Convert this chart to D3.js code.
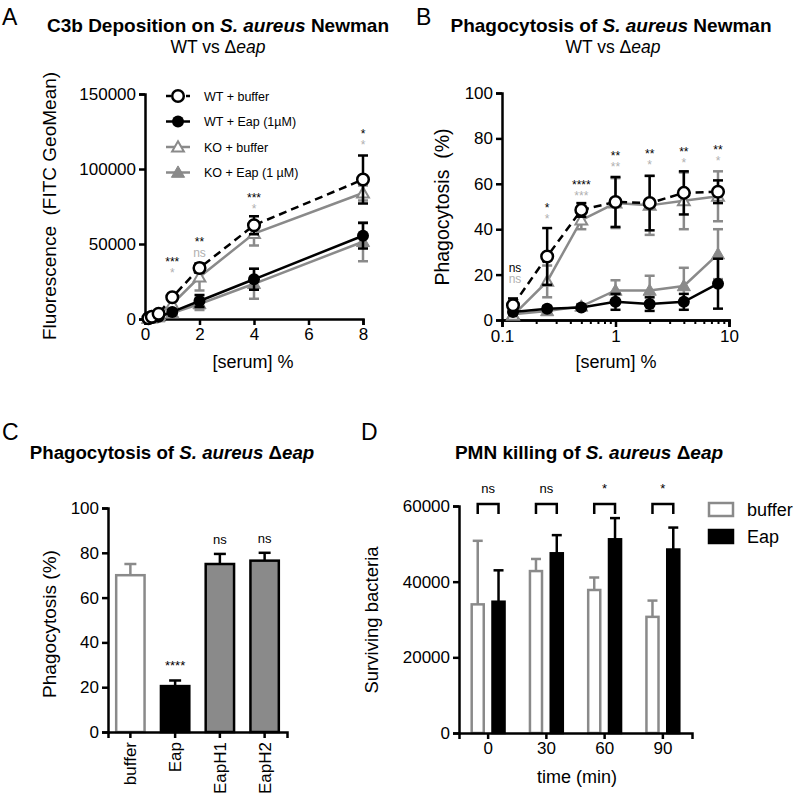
<!DOCTYPE html>
<html><head><meta charset="utf-8">
<script src="https://cdn.jsdelivr.net/npm/d3@7"></script>
<style>body{margin:0;background:#fff}svg{display:block;font-family:"Liberation Sans",Arial,sans-serif}text{white-space:pre}</style>
</head><body><svg id="c" width="800" height="797"></svg>
<script>
// ---------- DATA ----------
const serumA = [0.125, 0.25, 0.5, 1, 2, 4, 8];
const aWTbuf = [500, 1500, 3500, 14500, 34000, 62500, 93000];
const aWTbufErr = [300, 500, 1000, 2000, 3000, 6000, 16000];
const aWTeap = [300, 600, 1500, 4700, 12000, 26500, 55500];
const aWTeapErr = [200, 300, 600, 1000, 4000, 7000, 8500];
const aKObuf = [400, 1200, 3000, 10000, 28000, 57000, 84000];
const aKObufErr = [300, 400, 900, 2000, 9000, 8000, 5000];
const aKOeap = [300, 500, 1300, 4000, 10000, 23500, 51500];
const aKOeapErr = [200, 300, 500, 1000, 4000, 10000, 13000];
const aTicksY = [0, 50000, 100000, 150000];
const aTicksX = [0, 2, 4, 6, 8];
const aSigX = [1, 2, 4, 8];
const aSigBlack = ["***", "**", "***", "*"];
const aSigGray = ["*", "ns", "*", "*"];
const aSigY = [35300, 48700, 78000, 121000];
const legendA = ["WT + buffer", "WT + Eap (1\u00b5M)", "KO + buffer", "KO + Eap (1 \u00b5M)"];

const serumB = [0.125, 0.25, 0.5, 1, 2, 4, 8];
const bWTbuf = [6.5, 28, 48.5, 52, 51.5, 56, 56.5];
const bWTbufErr = [3, 12.5, 3, 11, 12, 9.5, 5];
const bKObuf = [2, 17, 44, 51.5, 50.5, 52.5, 54.5];
const bKObufErr = [1, 7, 4, 11, 13, 12.5, 11];
const bWTeap = [3.5, 5, 5.5, 8, 7, 8, 16];
const bWTeapErr = [1, 1, 0.8, 3.5, 3, 3.5, 11];
const bKOeap = [2.5, 4, 6, 13, 13, 15, 29];
const bKOeapErr = [1, 1, 1, 4.5, 6.5, 8, 11];
const bTicksY = [0, 20, 40, 60, 80, 100];
const bTicksX = [0.1, 1, 10];
const bSigX = [0.125, 0.25, 0.5, 1, 2, 4, 8];
const bSigBlack = ["ns", "*", "****", "**", "**", "**", "**"];
const bSigGray = ["ns", "*", "***", "**", "*", "*", "*"];
const bSigY = [21, 47.6, 57.7, 70.5, 71.4, 72.2, 73];

const cCats = ["buffer", "Eap", "EapH1", "EapH2"];
const cVals = [70, 20.5, 75, 76.5];
const cErr = [5, 2.5, 4.5, 3.5];
const cSig = ["", "****", "ns", "ns"];
const cTicksY = [0, 20, 40, 60, 80, 100];

const dTimes = ["0", "30", "60", "90"];
const dBuffer = [34000, 42800, 37800, 30700];
const dBufferErr = [16800, 3200, 3300, 4300];
const dEap = [34700, 47500, 51200, 48500];
const dEapErr = [8300, 4800, 5600, 5800];
const dSig = ["ns", "ns", "*", "*"];
const dTicksY = [0, 20000, 40000, 60000];
const dSeries = ["buffer", "Eap"];

// ---------- HELPERS ----------
const svg = d3.select("#c");
const GRAY = "#8a8a8a", LGRAY = "#b0b0b0", SW = 2.5;
const FONT = 17;
const SIGF = 12, SIGGAP = 11;

function styleAxis(g) {
  g.select(".domain").attr("stroke", "#000").attr("stroke-width", SW);
  g.selectAll(".tick line").attr("stroke", "#000").attr("stroke-width", SW);
  g.selectAll(".tick text").attr("font-size", FONT).attr("fill", "#000")
    .attr("font-family", '"Liberation Sans",Arial,sans-serif');
}
function title(x, y, parts, size) {
  const t = svg.append("text").attr("x", x).attr("y", y).attr("text-anchor", "middle")
    .attr("font-size", size || 19).attr("font-weight", "bold");
  parts.forEach(p => t.append("tspan").attr("font-style", p[1] ? "italic" : "normal").text(p[0]));
  return t;
}
function subtitle(x, y) {
  const t = svg.append("text").attr("x", x).attr("y", y).attr("text-anchor", "middle").attr("font-size", 17.5);
  t.append("tspan").text("WT vs \u0394");
  t.append("tspan").attr("font-style", "italic").text("eap");
}
function panelLabel(x, y, s) {
  svg.append("text").attr("x", x).attr("y", y).attr("font-size", 23).text(s);
}
function vlabel(x, y, s, size) {
  svg.append("text").attr("transform", `translate(${x},${y}) rotate(-90)`).attr("text-anchor", "middle")
    .attr("font-size", size || 19).text(s);
}
function hlabel(x, y, s, size) {
  svg.append("text").attr("x", x).attr("y", y).attr("text-anchor", "middle").attr("font-size", size || 18).text(s);
}
function marker(g, type, cx, cy, color) {
  if (type === "circleOpen") {
    g.append("circle").attr("cx", cx).attr("cy", cy).attr("r", 5.8).attr("fill", "#fff").attr("stroke", color).attr("stroke-width", SW);
  } else if (type === "circle") {
    g.append("circle").attr("cx", cx).attr("cy", cy).attr("r", 6).attr("fill", color);
  } else {
    const tri = d3.symbol().type(d3.symbolTriangle).size(type === "triOpen" ? 60 : 75)();
    g.append("path").attr("d", tri).attr("transform", `translate(${cx},${cy + 1})`)
      .attr("fill", type === "triOpen" ? "#fff" : color).attr("stroke", color).attr("stroke-width", type === "triOpen" ? 2 : 1);
  }
}
function series(g, xs, ys, errs, x, y, color, dash, mtype) {
  const line = d3.line().x((d, i) => x(xs[i])).y(d => y(d));
  xs.forEach((xv, i) => {
    const cx = x(xv), top = y(ys[i] + errs[i]), bot = y(Math.max(0, ys[i] - errs[i]));
    g.append("line").attr("x1", cx).attr("x2", cx).attr("y1", top).attr("y2", bot).attr("stroke", color).attr("stroke-width", SW);
    [top, bot].forEach(yy => g.append("line").attr("x1", cx - 5).attr("x2", cx + 5).attr("y1", yy).attr("y2", yy)
      .attr("stroke", color).attr("stroke-width", SW));
  });
  g.append("path").attr("d", line(ys)).attr("fill", "none").attr("stroke", color).attr("stroke-width", SW)
    .attr("stroke-dasharray", dash ? "8,5" : null);
  xs.forEach((xv, i) => marker(g, mtype, x(xv), y(ys[i]), color));
}
function sigPair(xx, yy, black, gray) {
  const t = svg.append("text").attr("x", xx).attr("y", yy).attr("text-anchor", "middle").attr("font-size", SIGF);
  t.append("tspan").attr("x", xx).text(black);
  t.append("tspan").attr("x", xx).attr("dy", SIGGAP).attr("fill", LGRAY).text(gray);
}

// ---------- PANEL A ----------
{
  panelLabel(2, 25, "A");
  title(218, 32, [["C3b Deposition on ", false], ["S. aureus", true], [" Newman", false]], 19);
  subtitle(218, 53);
  const x = d3.scaleLinear().domain([0, 8]).range([145, 363]);
  const y = d3.scaleLinear().domain([0, 150000]).range([319, 94]);
  const gy = svg.append("g").attr("transform", "translate(145,0)")
    .call(d3.axisLeft(y).tickValues(aTicksY).tickFormat(d3.format("d")).tickSizeOuter(0).tickSize(6).tickPadding(3));
  styleAxis(gy);
  const gx = svg.append("g").attr("transform", "translate(0,319)")
    .call(d3.axisBottom(x).tickValues(aTicksX).tickSizeOuter(0).tickSize(6).tickPadding(3));
  styleAxis(gx);
  vlabel(56, 206, "Fluorescence  (FITC GeoMean)");
  hlabel(253, 368, "[serum] %");
  const g = svg.append("g");
  series(g, serumA, aKOeap, aKOeapErr, x, y, GRAY, false, "tri");
  series(g, serumA, aKObuf, aKObufErr, x, y, GRAY, false, "triOpen");
  series(g, serumA, aWTeap, aWTeapErr, x, y, "#000", false, "circle");
  series(g, serumA, aWTbuf, aWTbufErr, x, y, "#000", true, "circleOpen");
  aSigX.forEach((v, i) => sigPair(x(v), y(aSigY[i]), aSigBlack[i], aSigGray[i]));
  const lt = [["circleOpen", "#000", true], ["circle", "#000", false], ["triOpen", GRAY, false], ["tri", GRAY, false]];
  legendA.forEach((s, i) => {
    const yy = 96 + i * 25.5;
    svg.append("line").attr("x1", 166).attr("x2", 190).attr("y1", yy).attr("y2", yy).attr("stroke", lt[i][1])
      .attr("stroke-width", SW).attr("stroke-dasharray", lt[i][2] ? "5,5" : null);
    marker(svg, lt[i][0], 178, yy, lt[i][1]);
    svg.append("text").attr("x", 204).attr("y", yy + 4.5).attr("font-size", 12.5).text(s);
  });
}

// ---------- PANEL B ----------
{
  panelLabel(416, 25, "B");
  title(611, 32, [["Phagocytosis of ", false], ["S. aureus", true], [" Newman", false]]);
  subtitle(613, 53);
  const x = d3.scaleLog().domain([0.1, 10]).range([502, 729]);
  const y = d3.scaleLinear().domain([0, 100]).range([320, 93]);
  const gy = svg.append("g").attr("transform", "translate(502,0)")
    .call(d3.axisLeft(y).tickValues(bTicksY).tickSizeOuter(0).tickSize(6).tickPadding(3));
  styleAxis(gy);
  const minor = x.ticks().filter(t => !bTicksX.includes(t));
  const gm = svg.append("g").attr("transform", "translate(0,320)")
    .call(d3.axisBottom(x).tickValues(minor).tickFormat("").tickSizeOuter(0).tickSize(4));
  styleAxis(gm);
  gm.selectAll(".tick line").attr("stroke-width", 2);
  const gx = svg.append("g").attr("transform", "translate(0,320)")
    .call(d3.axisBottom(x).tickValues(bTicksX).tickFormat(d => d3.format("")(d)).tickSizeOuter(0).tickSize(7).tickPadding(3));
  styleAxis(gx);
  vlabel(449, 207, "Phagocytosis  (%)", 19.5);
  hlabel(616, 368, "[serum] %");
  const g = svg.append("g");
  series(g, serumB, bKOeap, bKOeapErr, x, y, GRAY, false, "tri");
  series(g, serumB, bKObuf, bKObufErr, x, y, GRAY, false, "triOpen");
  series(g, serumB, bWTeap, bWTeapErr, x, y, "#000", false, "circle");
  series(g, serumB, bWTbuf, bWTbufErr, x, y, "#000", true, "circleOpen");
  bSigX.forEach((v, i) => sigPair(i === 0 ? x(v) + 2 : x(v), y(bSigY[i]), bSigBlack[i], bSigGray[i]));
}

// ---------- PANEL C ----------
{
  panelLabel(2, 440, "C");
  title(172, 459, [["Phagocytosis of ", false], ["S. aureus", true], [" \u0394", false], ["eap", true]], 18.7);
  const x = d3.scaleBand().domain(cCats).range([108, 287]).paddingInner(0.31).paddingOuter(0.155);
  const y = d3.scaleLinear().domain([0, 100]).range([732, 508]);
  const fills = ["#fff", "#000", GRAY, GRAY];
  const strokes = [GRAY, "#000", "#000", "#000"];
  cCats.forEach((c, i) => {
    const cx = x(c) + x.bandwidth() / 2, top = y(cVals[i] + cErr[i]);
    svg.append("line").attr("x1", cx).attr("x2", cx).attr("y1", y(cVals[i])).attr("y2", top).attr("stroke", strokes[i]).attr("stroke-width", SW);
    svg.append("line").attr("x1", cx - 6).attr("x2", cx + 6).attr("y1", top).attr("y2", top).attr("stroke", strokes[i]).attr("stroke-width", SW);
    svg.append("rect").attr("x", x(c) + 1.25).attr("y", y(cVals[i])).attr("width", x.bandwidth() - 2.5)
      .attr("height", y(0) - y(cVals[i])).attr("fill", fills[i]).attr("stroke", strokes[i]).attr("stroke-width", SW);
    if (cSig[i]) svg.append("text").attr("x", cx).attr("y", y(cVals[i] + cErr[i]) - 10).attr("text-anchor", "middle")
      .attr("font-size", 13).text(cSig[i]);
  });
  const gy = svg.append("g").attr("transform", "translate(108,0)")
    .call(d3.axisLeft(y).tickValues(cTicksY).tickSizeOuter(0).tickSize(6).tickPadding(3));
  styleAxis(gy);
  const gx = svg.append("g").attr("transform", "translate(0,732)")
    .call(d3.axisBottom(x).tickSizeOuter(0).tickSize(6).tickPadding(3));
  styleAxis(gx);
  gx.selectAll(".tick text").attr("transform", "rotate(-90)").attr("text-anchor", "end").attr("dy", "0.35em")
    .attr("x", -10).attr("y", 0);
  vlabel(56, 624, "Phagocytosis (%)");
}

// ---------- PANEL D ----------
{
  panelLabel(361, 440, "D");
  title(589, 459, [["PMN killing of ", false], ["S. aureus", true], [" \u0394", false], ["eap", true]]);
  const x0 = d3.scaleBand().domain(dTimes).range([459, 692]);
  const x1 = d3.scaleBand().domain(dSeries).range([0, x0.bandwidth()]).paddingInner(0.3).paddingOuter(0.55);
  const y = d3.scaleLinear().domain([0, 60000]).range([733, 506]);
  const vals = [dBuffer, dEap], errs = [dBufferErr, dEapErr];
  const fills = ["#fff", "#000"], strokes = [GRAY, "#000"];
  dTimes.forEach((t, i) => {
    dSeries.forEach((s, j) => {
      const bx = x0(t) + x1(s), cx = bx + x1.bandwidth() / 2, v = vals[j][i], top = y(v + errs[j][i]);
      svg.append("line").attr("x1", cx).attr("x2", cx).attr("y1", y(v)).attr("y2", top).attr("stroke", strokes[j]).attr("stroke-width", SW);
      svg.append("line").attr("x1", cx - 5).attr("x2", cx + 5).attr("y1", top).attr("y2", top).attr("stroke", strokes[j]).attr("stroke-width", SW);
      svg.append("rect").attr("x", bx + 1.25).attr("y", y(v)).attr("width", x1.bandwidth() - 2.5).attr("height", y(0) - y(v))
        .attr("fill", fills[j]).attr("stroke", strokes[j]).attr("stroke-width", SW);
    });
    const a = x0(t) + x1("buffer") + x1.bandwidth() / 2, b = x0(t) + x1("Eap") + x1.bandwidth() / 2;
    const by = y(60000) - 2;
    svg.append("path").attr("d", `M${a},${by + 10}V${by}H${b}V${by + 10}`).attr("fill", "none").attr("stroke", "#000").attr("stroke-width", SW);
    svg.append("text").attr("x", (a + b) / 2).attr("y", by - 11).attr("text-anchor", "middle").attr("font-size", 13).text(dSig[i]);
  });
  const gy = svg.append("g").attr("transform", "translate(459,0)")
    .call(d3.axisLeft(y).tickValues(dTicksY).tickFormat(d3.format("d")).tickSizeOuter(0).tickSize(6).tickPadding(3));
  styleAxis(gy);
  const gx = svg.append("g").attr("transform", "translate(0,733)")
    .call(d3.axisBottom(x0).tickSizeOuter(0).tickSize(6).tickPadding(3));
  styleAxis(gx);
  vlabel(378, 620, "Surviving bacteria", 18.5);
  hlabel(577, 783, "time (min)");
  dSeries.forEach((s, j) => {
    const yy = 503 + j * 27;
    svg.append("rect").attr("x", 709).attr("y", yy).attr("width", 24).attr("height", 13)
      .attr("fill", fills[j]).attr("stroke", strokes[j]).attr("stroke-width", SW);
    svg.append("text").attr("x", 747).attr("y", yy + 13).attr("font-size", 18).text(s);
  });
}
</script></body></html>
